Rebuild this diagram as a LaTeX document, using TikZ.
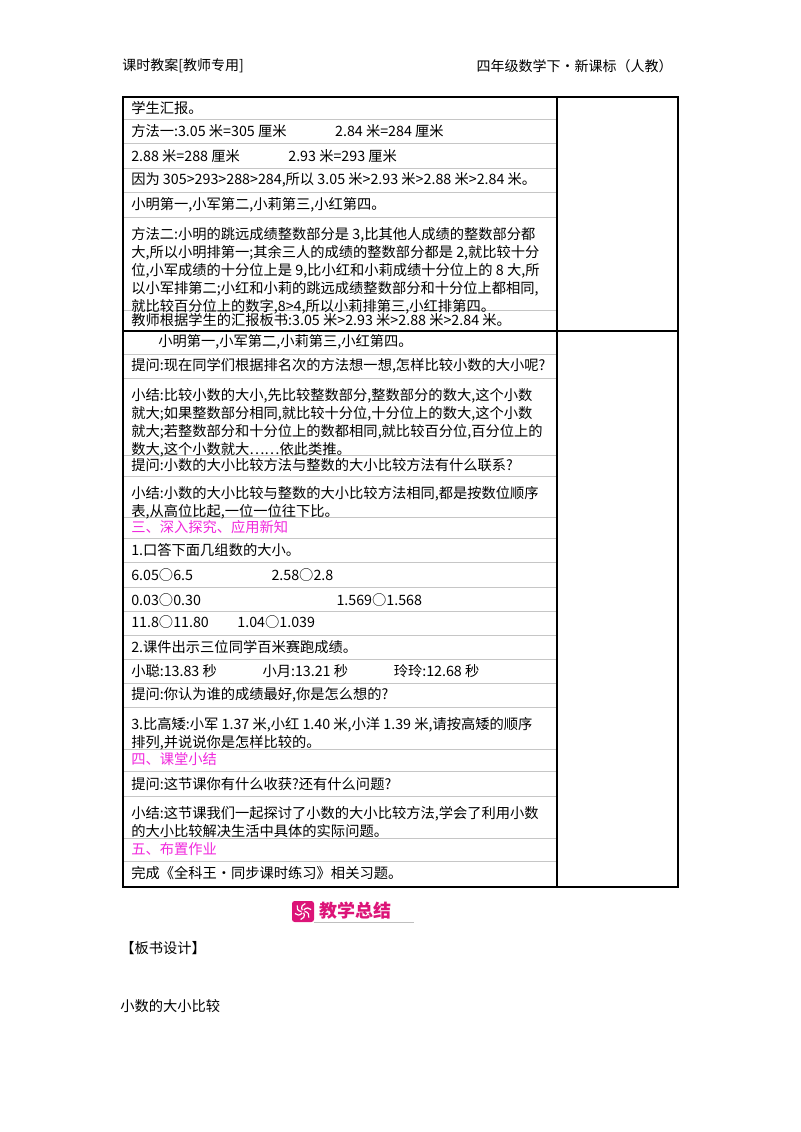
\documentclass[tikz,border=0pt]{standalone}
\usepackage{fontspec}
\setmainfont{Noto Sans CJK SC}
\usetikzlibrary{positioning,calc}
\definecolor{titlepink}{RGB}{240,40,220}
\definecolor{bannerpink}{RGB}{220,20,120}
\begin{document}
\begin{tikzpicture}[x=0.75pt,y=-0.75pt]
  \tikzstyle{line}=[anchor=west, inner sep=0pt, font=\fontsize{10.7pt}{13.5pt}\selectfont]
  \tikzstyle{para}=[line, anchor=north west, align=left]
  \tikzstyle{head}=[line, text=titlepink]
  \tikzstyle{sep}=[gray!45, line width=0.5pt]
  \useasboundingbox (0,0) rectangle (800,1132);

  % page header
  \node[line, font=\fontsize{10.5pt}{12pt}\selectfont] (hl) at (122,66) {课时教案[教师专用]};
  \node[line, anchor=east, font=\fontsize{10.5pt}{12pt}\selectfont] (hr) at (673,66) {四年级数学下·新课标（人教）};

  % table frame
  \draw[line width=0.9pt] (123,97) rectangle (678,887);
  \draw[line width=0.9pt] (557,97) -- (557,887);
  \draw[line width=0.9pt] (123,331) -- (678,331);
  \foreach \y in {119,143,168,192,217,310,354,378,455,476,517,538,562,587,611,635,659,683,707,749,771,796,838,861}
    \draw[sep] (124,\y) -- (556,\y);

  % upper cell
  \node[line] (r1) at (131,108) {学生汇报。};
  \node[line] (r2) at (131,131) {方法一:3.05 米=305 厘米\hspace{3.4em}2.84 米=284 厘米};
  \node[line] (r3) at (131,156) {2.88 米=288 厘米\hspace{3.4em}2.93 米=293 厘米};
  \node[line] (r4) at (131,180) {因为 305>293>288>284,所以 3.05 米>2.93 米>2.88 米>2.84 米。};
  \node[line] (r5) at (131,205) {小明第一,小军第二,小莉第三,小红第四。};
  \node[para] (r6) at (131,227) {方法二:小明的跳远成绩整数部分是 3,比其他人成绩的整数部分都\\大,所以小明排第一;其余三人的成绩的整数部分都是 2,就比较十分\\位,小军成绩的十分位上是 9,比小红和小莉成绩十分位上的 8 大,所\\以小军排第二;小红和小莉的跳远成绩整数部分和十分位上都相同,\\就比较百分位上的数字,8>4,所以小莉排第三,小红排第四。};
  \node[line] (r7) at (131,320) {教师根据学生的汇报板书:3.05 米>2.93 米>2.88 米>2.84 米。};

  % lower cell
  \node[line] (s1) at (158,342) {小明第一,小军第二,小莉第三,小红第四。};
  \node[line] (s2) at (131,366) {提问:现在同学们根据排名次的方法想一想,怎样比较小数的大小呢?};
  \node[para] (s3) at (131,388) {小结:比较小数的大小,先比较整数部分,整数部分的数大,这个小数\\就大;如果整数部分相同,就比较十分位,十分位上的数大,这个小数\\就大;若整数部分和十分位上的数都相同,就比较百分位,百分位上的\\数大,这个小数就大……依此类推。};
  \node[line] (s4) at (131,465) {提问:小数的大小比较方法与整数的大小比较方法有什么联系?};
  \node[para] (s5) at (131,486) {小结:小数的大小比较与整数的大小比较方法相同,都是按数位顺序\\表,从高位比起,一位一位往下比。};
  \node[head] (h3) at (131,527) {三、深入探究、应用新知};
  \node[line] (s6) at (131,550) {1.口答下面几组数的大小。};
  \node[line] (s7) at (131,575) {6.05○6.5\hspace{5.5em}2.58○2.8};
  \node[line] (s8) at (131,600) {0.03○0.30\hspace{9.5em}1.569○1.568};
  \node[line] (s9) at (131,622) {11.8○11.80\hspace{2em}1.04○1.039};
  \node[line] (s10) at (131,647) {2.课件出示三位同学百米赛跑成绩。};
  \node[line] (s11) at (131,671) {小聪:13.83 秒\hspace{3.2em}小月:13.21 秒\hspace{3.2em}玲玲:12.68 秒};
  \node[line] (s12) at (131,695) {提问:你认为谁的成绩最好,你是怎么想的?};
  \node[para] (s13) at (131,717) {3.比高矮:小军 1.37 米,小红 1.40 米,小洋 1.39 米,请按高矮的顺序\\排列,并说说你是怎样比较的。};
  \node[head] (h4) at (131,759) {四、课堂小结};
  \node[line] (s14) at (131,784) {提问:这节课你有什么收获?还有什么问题?};
  \node[para] (s15) at (131,806) {小结:这节课我们一起探讨了小数的大小比较方法,学会了利用小数\\的大小比较解决生活中具体的实际问题。};
  \node[head] (h5) at (131,849) {五、布置作业};
  \node[line] (s16) at (131,873) {完成《全科王·同步课时练习》相关习题。};

  % banner
  \fill[bannerpink, rounded corners=2pt] (292,901) rectangle (314,922);
  \foreach \a in {0,60,...,300}
    \draw[white, line width=0.9pt] ($(303,911.5)+(\a:1.5)$) arc[start angle=\a-90, end angle=\a+20, radius=4.5];
  \node[line, anchor=west, text=bannerpink, font=\fontsize{13.5pt}{14pt}\selectfont\bfseries] (ban) at (319,911) {教学总结};
  \draw[gray!50, line width=1.2pt] (314,922.5) -- (414,922.5);

  % below
  \node[line] (b1) at (120,948) {【板书设计】};
  \node[line] (b2) at (120,1006) {小数的大小比较};
\end{tikzpicture}
\end{document}
